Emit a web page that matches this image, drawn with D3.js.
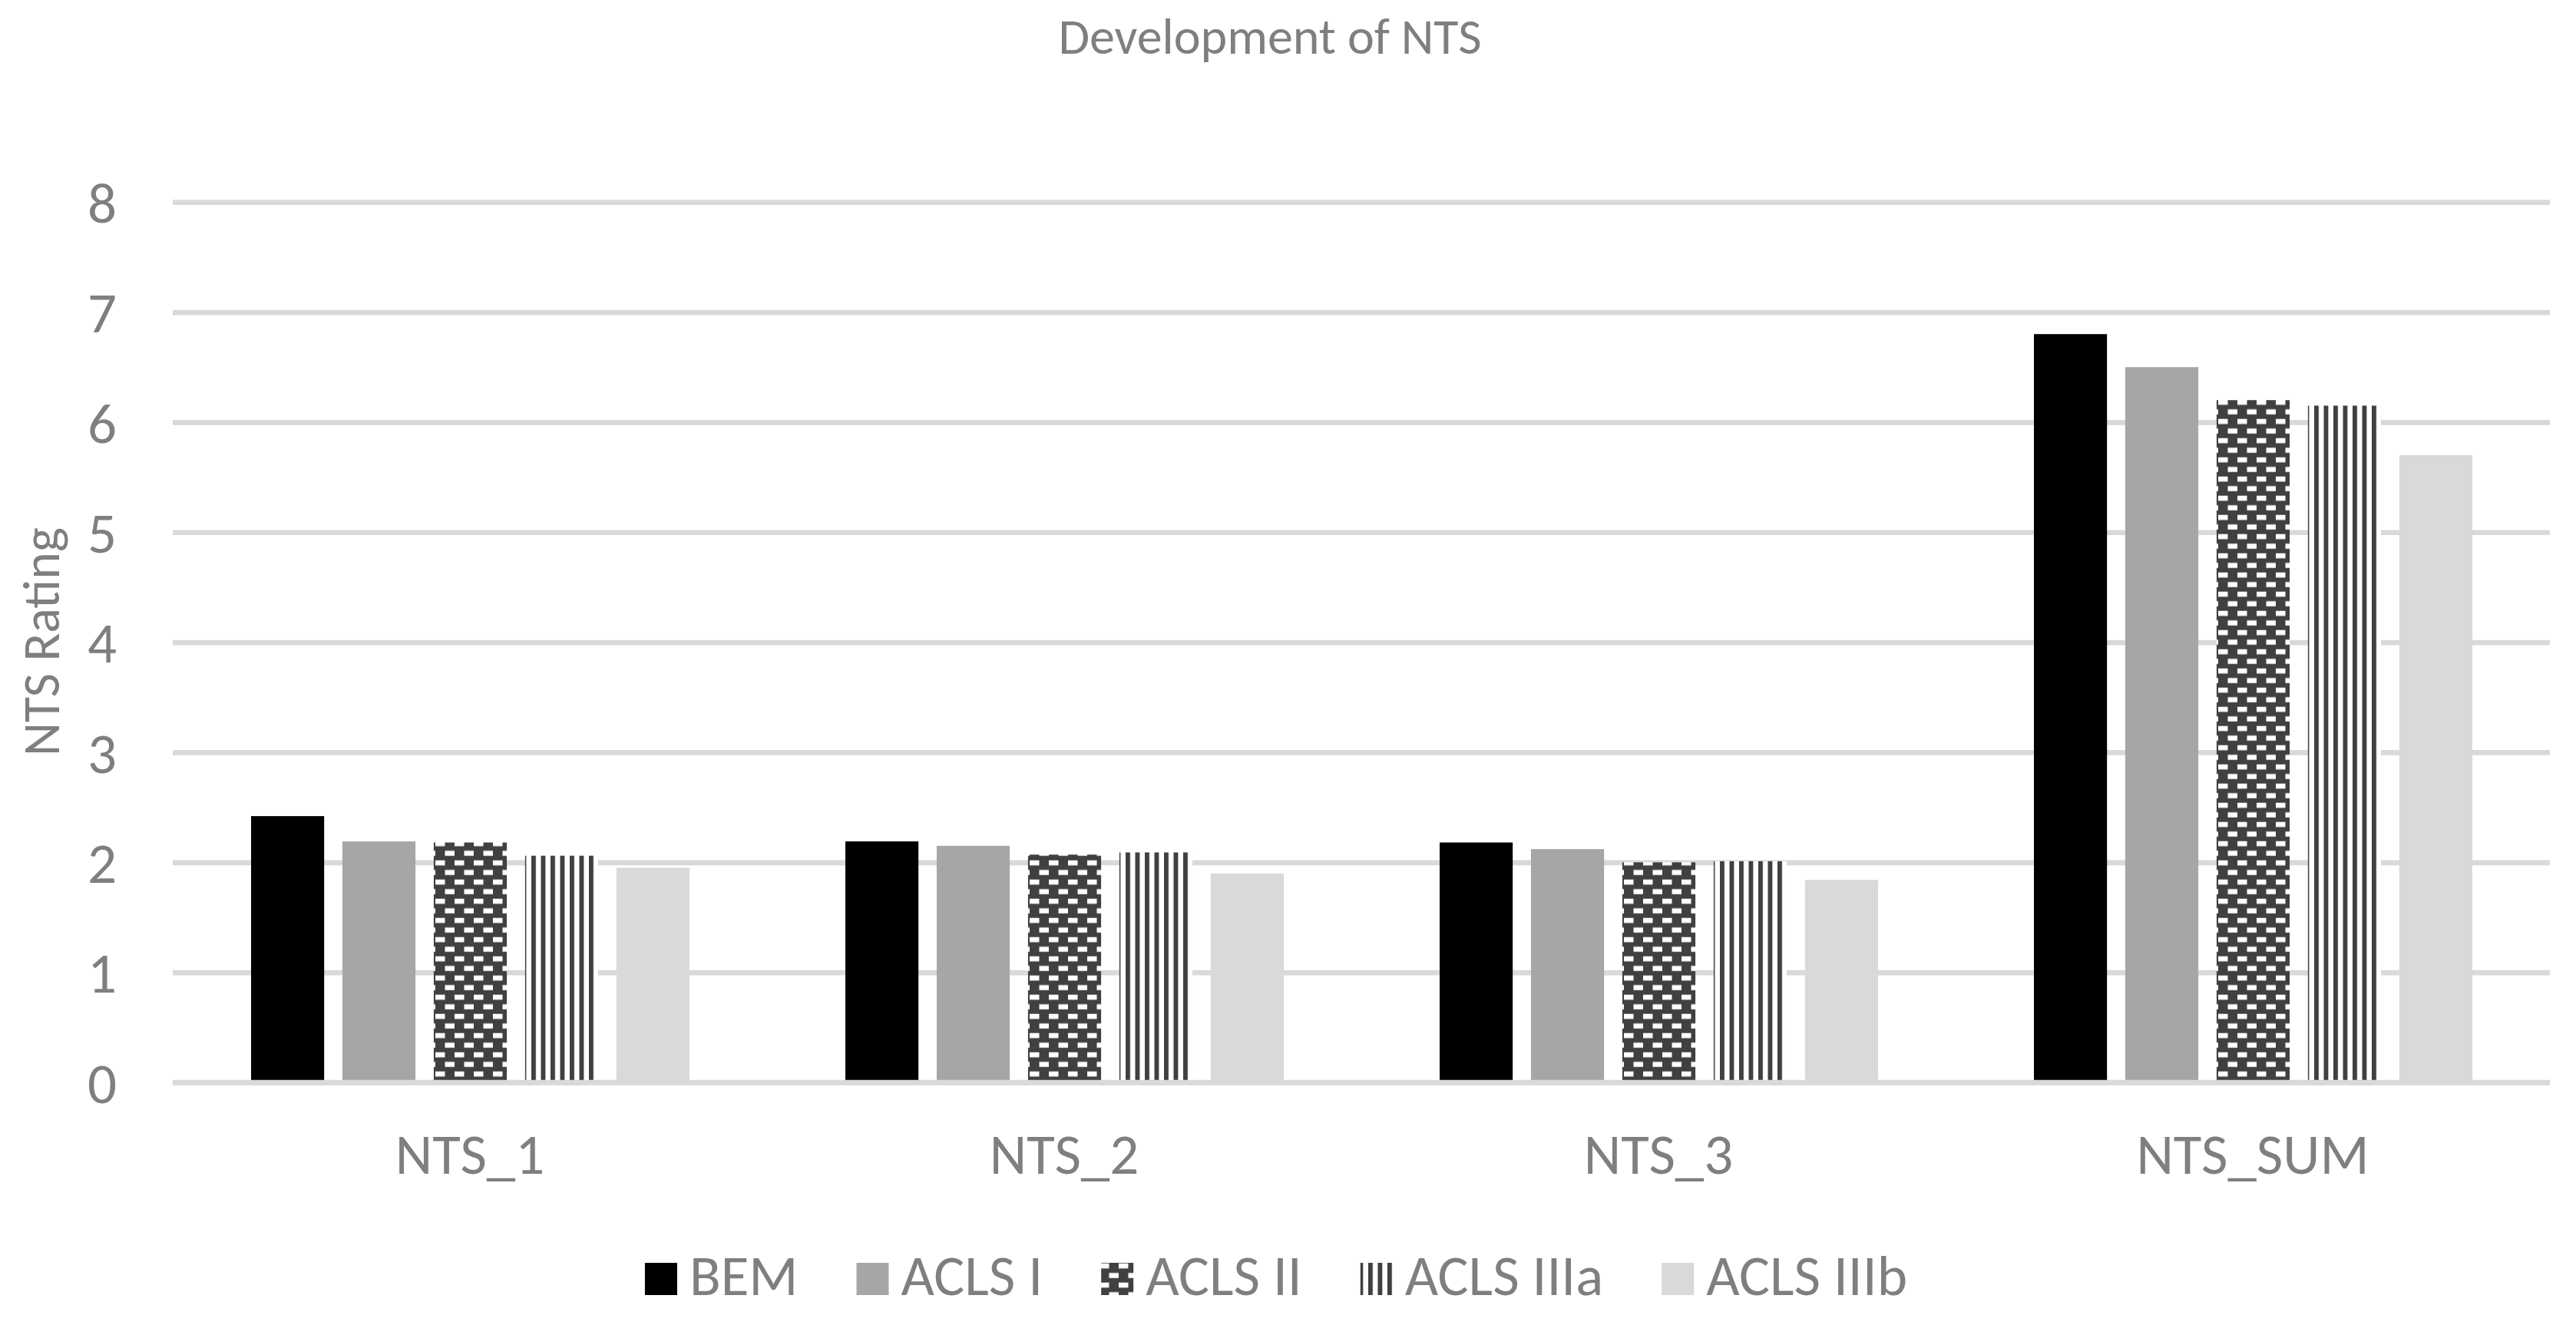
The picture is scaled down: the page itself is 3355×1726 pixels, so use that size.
<!DOCTYPE html>
<html>
<head>
<meta charset="utf-8">
<script src="https://cdn.jsdelivr.net/npm/d3@7"></script>
<style>
  html, body { margin: 0; padding: 0; background: #ffffff; }
  svg { display: block; }
  text { font-family: Carlito, Lato, "Open Sans", sans-serif; fill: #7f7f7f; }
</style>
</head>
<body>
<svg id="chart" width="3355" height="1726"></svg>
<script>
// ---- data ----
const categories = ["NTS_1", "NTS_2", "NTS_3", "NTS_SUM"];
const seriesNames = ["BEM", "ACLS I", "ACLS II", "ACLS IIIa", "ACLS IIIb"];
const BEM      = [2.42, 2.19, 2.18, 6.80];
const ACLS_I   = [2.19, 2.15, 2.12, 6.50];
const ACLS_II  = [2.18, 2.07, 2.00, 6.20];
const ACLS_IIIa= [2.06, 2.09, 2.01, 6.15];
const ACLS_IIIb= [1.95, 1.90, 1.84, 5.70];
const yTicks = [0, 1, 2, 3, 4, 5, 6, 7, 8];
const chartTitle = "Development of NTS";
const yTitle = "NTS Rating";

const seriesValues = [BEM, ACLS_I, ACLS_II, ACLS_IIIa, ACLS_IIIb];

// ---- layout ----
const W = 3355, H = 1726;
const plot = { left: 225, right: 3321, top: 263.2, bottom: 1410 };
const svg = d3.select("#chart");
const labelSize = 75, titleSize = 66;

// patterns
const defs = svg.append("defs");
const dash = defs.append("pattern")
  .attr("id", "pDash").attr("patternUnits", "userSpaceOnUse")
  .attr("width", 25).attr("height", 25).attr("x", 17).attr("y", 20.7);
dash.append("rect").attr("width", 25).attr("height", 25).attr("fill", "#404040");
dash.append("rect").attr("x", 0).attr("y", 0).attr("width", 12.5).attr("height", 6.6).attr("fill", "#ffffff");
dash.append("rect").attr("x", 12.5).attr("y", 12.5).attr("width", 12.5).attr("height", 6.6).attr("fill", "#ffffff");

const vert = defs.append("pattern")
  .attr("id", "pVert").attr("patternUnits", "userSpaceOnUse")
  .attr("width", 12.5).attr("height", 12.5).attr("x", 4.5).attr("y", 0);
vert.append("rect").attr("width", 12.5).attr("height", 12.5).attr("fill", "#ffffff");
vert.append("rect").attr("x", 0).attr("width", 5.9).attr("height", 12.5).attr("fill", "#404040");

const fills = ["#000000", "#a6a6a6", "url(#pDash)", "url(#pVert)", "#d9d9d9"];

// scales
const x0 = d3.scaleBand().domain(categories).range([plot.left, plot.right]).padding(0);
const x1 = d3.scaleBand().domain(seriesNames).range([102, 673]).paddingInner(0.2).paddingOuter(0);
const y = d3.scaleLinear().domain([0, 8]).range([plot.bottom, plot.top]);

// gridlines
const grid = svg.append("g")
  .attr("transform", `translate(${plot.left},0)`)
  .call(d3.axisLeft(y).tickValues(yTicks).tickSize(-(plot.right - plot.left)).tickFormat(""));
grid.select(".domain").remove();
grid.selectAll(".tick line").attr("stroke", "#d9d9d9").attr("stroke-width", 6.7);

// bars
const groups = svg.append("g").selectAll("g")
  .data(categories)
  .join("g")
  .attr("transform", d => `translate(${x0(d)},0)`);

groups.selectAll("rect")
  .data((c, ci) => seriesNames.map((s, si) => ({ s, si, v: seriesValues[si][ci] })))
  .join("rect")
  .attr("x", d => x1(d.s))
  .attr("width", x1.bandwidth())
  .attr("y", d => y(d.v))
  .attr("height", d => y(0) - y(d.v))
  .attr("fill", d => fills[d.si]);

// baseline drawn over bars
svg.append("line")
  .attr("x1", plot.left).attr("x2", plot.right)
  .attr("y1", y(0)).attr("y2", y(0))
  .attr("stroke", "#d9d9d9").attr("stroke-width", 6.7);

// y axis labels
const yAxis = svg.append("g")
  .attr("transform", `translate(${plot.left},0)`)
  .call(d3.axisLeft(y).tickValues(yTicks).tickSize(0).tickPadding(73).tickFormat(d3.format("d")));
yAxis.select(".domain").remove();
yAxis.selectAll("text")
  .attr("font-size", labelSize)
  .attr("fill", "#7f7f7f")
  .attr("dy", "0.35em");

// x axis labels
const xAxis = svg.append("g")
  .attr("transform", `translate(0,${plot.bottom})`)
  .call(d3.axisBottom(x0).tickSize(0));
xAxis.select(".domain").remove();
xAxis.selectAll("text")
  .attr("font-size", labelSize)
  .attr("fill", "#7f7f7f")
  .attr("dy", null)
  .attr("y", 1529 - plot.bottom);

// title
svg.append("text")
  .attr("x", 1654).attr("y", 70)
  .attr("text-anchor", "middle")
  .attr("font-size", titleSize)
  .text(chartTitle);

// y title
svg.append("text")
  .attr("transform", "translate(77,836) rotate(-90)")
  .attr("text-anchor", "middle")
  .attr("font-size", titleSize + 2)
  .text(yTitle);

// legend
const legend = svg.append("g");
let cx = 0;
seriesNames.forEach((s, i) => {
  const g = legend.append("g");
  g.append("rect").attr("x", cx).attr("y", 1645).attr("width", 42).attr("height", 42).attr("fill", fills[i]);
  const t = g.append("text").attr("x", cx + 58).attr("y", 1687).attr("font-size", labelSize).text(s);
  const tw = t.node().getComputedTextLength();
  cx += 58 + tw + (i < seriesNames.length - 1 ? 76 : 0);
});
legend.attr("transform", `translate(${1662 - cx / 2},0)`);
</script>
</body>
</html>
